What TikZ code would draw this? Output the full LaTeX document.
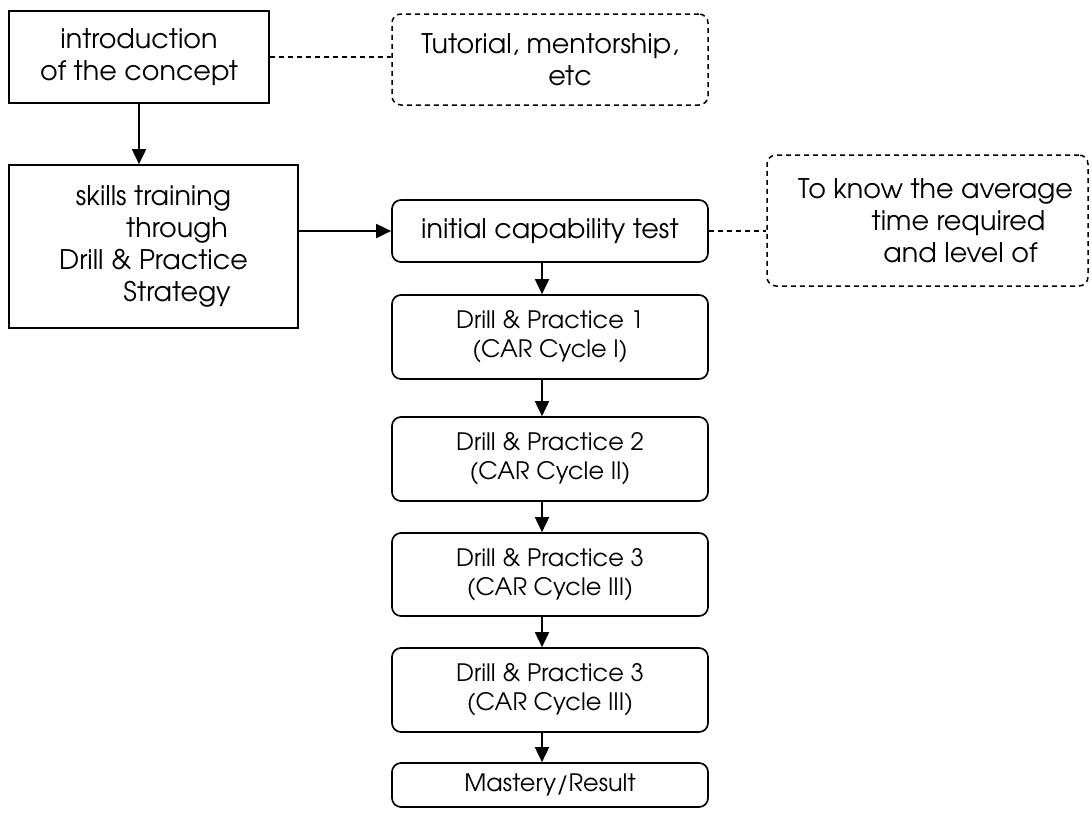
\documentclass[tikz,border=0pt]{standalone}
\usepackage{fontspec}
\setmainfont{texgyreadventor-regular.otf}
\usepackage{tikz}
\usetikzlibrary{positioning}
\usetikzlibrary{calc}
\usetikzlibrary{arrows.meta}
\tikzset{box/.style={draw, line width=1.7pt, align=center, inner sep=0pt}}
\tikzset{rbox/.style={box, rounded corners=9pt, minimum width=316pt}}
\tikzset{note/.style={rbox, line width=1.5pt, dash pattern=on 5pt off 4pt}}
\tikzset{flow/.style={line width=1.8pt, -{Triangle[length=15pt,width=14pt]}}}
\tikzset{link/.style={line width=1.5pt, dash pattern=on 5pt off 4pt}}

\begin{document}
\begin{tikzpicture}[x=1pt, y=-1pt, font=\fontsize{27}{32}\selectfont]
\useasboundingbox (0,0) rectangle (1092,839);
\node[box, minimum width=260pt, minimum height=92pt] (intro) at (139,57) {introduction\\of the concept};
\node[box, minimum width=289pt, minimum height=163pt] (skills) at (153.5,246.5)
  {skills training\\\hspace*{47pt}through\\Drill \& Practice\\\hspace*{47pt}Strategy};
\node[note, minimum height=91pt] (tutor) at (550,59.5) {Tutorial, mentorship,\\\hspace*{40pt}etc};
\node[rbox, minimum height=62pt] (init) at (550,231) {initial capability test};
\node[note, minimum width=321pt, minimum height=131pt] (know) at (927.5,220.5)
  {\hspace*{16pt}To know the average\\\hspace*{62pt}time required\\\hspace*{66pt}and level of};
%
\begin{scope}[font=\fontsize{24}{29}\selectfont]
\node[rbox, minimum height=84pt] (dp1) at (550,337) {Drill \& Practice 1\\(CAR Cycle I)};
\node[rbox, minimum height=84pt] (dp2) at (550,459) {Drill \& Practice 2\\(CAR Cycle II)};
\node[rbox, minimum height=83pt] (dp3) at (550,574.5) {Drill \& Practice 3\\(CAR Cycle III)};
\node[rbox, minimum height=84pt] (dp4) at (550,690) {Drill \& Practice 3\\(CAR Cycle III)};
\node[rbox, minimum height=44pt] (result) at (550,785) {Mastery/Result};
\end{scope}
\coordinate (spine) at (542,0);
%
\draw[link] (intro.east) -- (intro.east -| tutor.west);
\draw[link] (init.east) -- (init.east -| know.west);
\draw[flow] (intro.south) -- (intro.south |- skills.north);
\draw[flow] (skills.east |- init.west) -- (init.west);
\draw[flow] (init.south -| spine) -- (dp1.north -| spine);
\draw[flow] (dp1.south -| spine) -- (dp2.north -| spine);
\draw[flow] (dp2.south -| spine) -- (dp3.north -| spine);
\draw[flow] (dp3.south -| spine) -- (dp4.north -| spine);
\draw[flow] (dp4.south -| spine) -- (result.north -| spine);
\end{tikzpicture}
\end{document}
